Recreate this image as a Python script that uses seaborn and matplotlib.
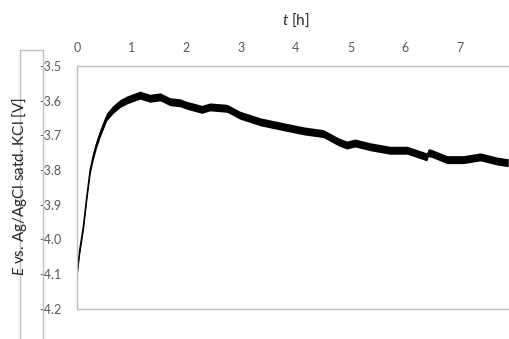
import matplotlib
matplotlib.use("Agg")
import matplotlib.pyplot as plt
import seaborn as sns
import numpy as np
import pandas as pd
from matplotlib.lines import Line2D

# ---- data ----
t_h = [0.0, 0.05, 0.115, 0.18, 0.24, 0.30, 0.36, 0.42, 0.54, 0.66, 0.79, 0.91,
       1.15, 1.33, 1.52, 1.70, 1.88, 2.0, 2.28, 2.43, 2.74, 2.98, 3.35, 3.77,
       4.14, 4.50, 4.63, 4.78, 4.93, 5.08, 5.36, 5.72, 6.03, 6.39, 6.42, 6.48,
       6.76, 7.06, 7.37, 7.67, 7.88]
E_V = [-4.098, -4.03, -3.964, -3.875, -3.80, -3.757, -3.723, -3.695, -3.647, -3.625,
       -3.608, -3.598, -3.584, -3.593, -3.589, -3.603, -3.606, -3.613, -3.625, -3.618,
       -3.622, -3.642, -3.661, -3.675, -3.687, -3.695, -3.706, -3.719, -3.728, -3.722,
       -3.733, -3.743, -3.743, -3.762, -3.750, -3.752, -3.770, -3.770, -3.762, -3.774,
       -3.779]
x_ticks = [0, 1, 2, 3, 4, 5, 6, 7]
y_ticks = [-3.5, -3.6, -3.7, -3.8, -3.9, -4.0, -4.1, -4.2]

df = pd.DataFrame({"t": t_h, "E": E_V})

sns.set_theme(style="white")
plt.rcParams['font.family'] = ['Lato', 'DejaVu Sans']
plt.rcParams['axes.unicode_minus'] = False
plt.rcParams['mathtext.fontset'] = 'custom'
plt.rcParams['mathtext.it'] = 'Lato:italic'
plt.rcParams['mathtext.rm'] = 'Lato'

W, H = 509, 339
fig = plt.figure(figsize=(W / 100, H / 100), dpi=100)
ax = fig.add_axes([77 / W, 1 - 308.7 / H, (508 - 77) / W, (308.7 - 66) / H])

band = 0.0115
ax.fill_between(df["t"], df["E"] - band, df["E"] + band, color="black", lw=0)
sns.lineplot(data=df, x="t", y="E", ax=ax, color="black", lw=1.0, sort=False)

ax.set_xlim(0, 7.875)
ax.set_ylim(-4.2, -3.5)
ax.set_xticks(x_ticks)
ax.set_xticklabels([str(v) for v in x_ticks])
ax.set_yticks(y_ticks)
ax.set_yticklabels([f"{v:.1f}" for v in y_ticks])
ax.xaxis.tick_top()
ax.tick_params(axis="x", length=0, pad=9, labelsize=9, labelcolor="#595959")
ax.tick_params(axis="y", length=0, pad=11, labelsize=9, labelcolor="#595959")
ax.set_xlabel("")
ax.set_ylabel("")
for s in ["top", "left", "bottom"]:
    ax.spines[s].set_color("#BFBFBF")
    ax.spines[s].set_linewidth(1.0)
ax.spines["right"].set_visible(False)

# x label above
fig.text(296 / W, 1 - 20 / H, r"$t$ [h]", ha="center", va="center", fontsize=11, color="#262626")
# y label
fig.text(20 / W, 1 - 187 / H, r"$E$ vs. Ag/AgCl satd. KCl [V]", rotation=90,
         ha="center", va="center", fontsize=11, color="#262626")

# frame lines on the left
gc = "#BFBFBF"
fig.add_artist(Line2D([43 / W, 43 / W], [1 - 50 / H, 0], transform=fig.transFigure, color=gc, lw=1))
fig.add_artist(Line2D([20 / W, 20 / W], [1 - 50 / H, 0], transform=fig.transFigure, color=gc, lw=1))
fig.add_artist(Line2D([20 / W, 43 / W], [1 - 50 / H, 1 - 50 / H], transform=fig.transFigure, color=gc, lw=1))

fig.savefig("out.png", dpi=100)
